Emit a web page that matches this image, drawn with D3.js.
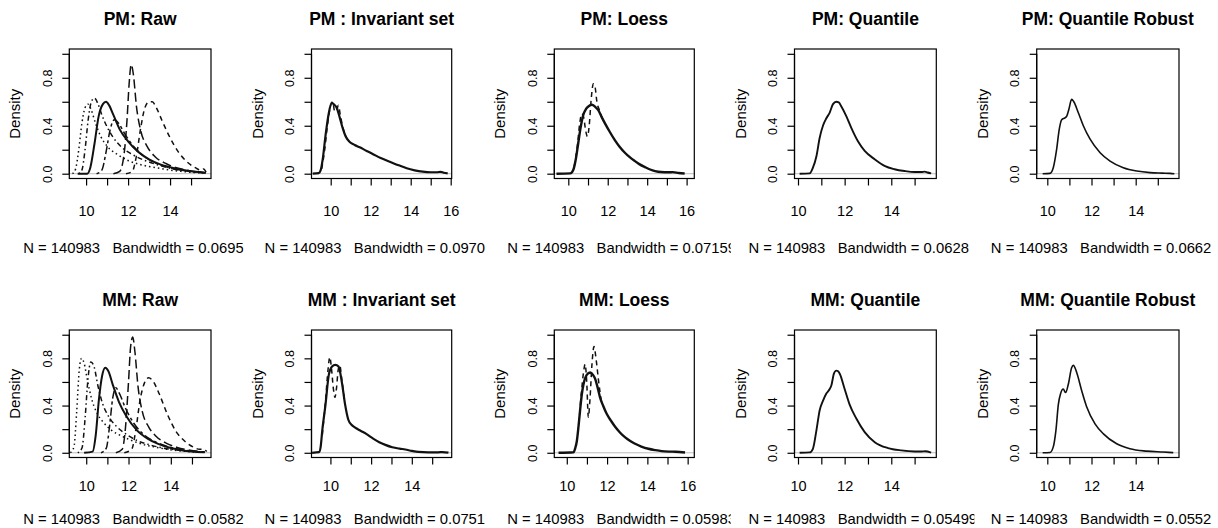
<!DOCTYPE html>
<html>
<head>
<meta charset="utf-8">
<script src="https://cdn.jsdelivr.net/npm/d3@7"></script>
<style>
  body { margin: 0; background: #fff; }
  svg { font-family: "Liberation Sans", Arial, sans-serif; }
  .sub { white-space: pre; }
</style>
</head>
<body>
<div id="chart"></div>
<script>
// ---- data ----
const titles = [
  'PM: Raw', 'PM : Invariant set', 'PM: Loess', 'PM: Quantile', 'PM: Quantile Robust',
  'MM: Raw', 'MM : Invariant set', 'MM: Loess', 'MM: Quantile', 'MM: Quantile Robust'
]
const nObs = 140983
const bandwidths = ['0.0695', '0.0970', '0.07159', '0.0628', '0.0662',
                    '0.0582', '0.0751', '0.05983', '0.05499', '0.0552']
const xDomains = [
  [9.2, 15.95], [9.04, 16.05], [9.29, 16.39], [9.85, 15.93], [9.52, 15.96],
  [9.2, 15.9], [9.07, 15.96], [9.38, 16.33], [9.85, 15.93], [9.52, 15.96]
]
const yDomain = [-0.04, 1.04]
const yTicks = [0, 0.2, 0.4, 0.6, 0.8, 1.0]
const yLabels = [0, 0.4, 0.8]

// PM raw: one density per array (solid, dashed, dotted, dotdash, longdash, twodash)
const pmRawSolid = [[9.6,0],[10.05,0],[10.2,0.05],[10.4,0.25],[10.6,0.48],[10.8,0.58],[10.95,0.6],[11.1,0.57],[11.3,0.49],[11.6,0.37],[12,0.27],[12.5,0.18],[13,0.12],[13.5,0.08],[14,0.055],[14.5,0.035],[15,0.02],[15.5,0.012],[15.7,0.005]]
const pmRawDashed = [[11.9,0],[12.2,0.02],[12.4,0.15],[12.6,0.38],[12.8,0.55],[13.0,0.6],[13.15,0.6],[13.35,0.55],[13.6,0.45],[14.0,0.3],[14.4,0.18],[14.8,0.1],[15.2,0.05],[15.45,0.03],[15.6,0.04],[15.72,0.01]]
const pmRawDotted = [[9.35,0],[9.5,0.04],[9.65,0.2],[9.8,0.42],[9.95,0.55],[10.1,0.58],[10.25,0.53],[10.45,0.42],[10.7,0.31],[11,0.23],[11.5,0.16],[12,0.11],[12.5,0.08],[13,0.06],[13.5,0.045],[14,0.03],[14.5,0.02],[15,0.012],[15.6,0.004]]
const pmRawDotDash = [[9.65,0],[9.8,0.03],[9.95,0.2],[10.1,0.45],[10.25,0.6],[10.4,0.63],[10.55,0.59],[10.75,0.49],[11.0,0.39],[11.3,0.3],[11.7,0.22],[12.2,0.16],[12.8,0.11],[13.3,0.08],[14,0.045],[14.5,0.03],[15,0.018],[15.6,0.008]]
const pmRawLongDash = [[11.3,0],[11.6,0.02],[11.8,0.15],[11.95,0.45],[12.05,0.75],[12.15,0.91],[12.25,0.83],[12.4,0.56],[12.6,0.36],[12.9,0.23],[13.3,0.14],[13.8,0.085],[14.3,0.05],[14.8,0.03],[15.3,0.015],[15.7,0.008]]
const pmRawTwoDash = [[10.5,0],[10.75,0.03],[10.95,0.18],[11.15,0.37],[11.35,0.45],[11.55,0.42],[11.85,0.33],[12.3,0.22],[12.8,0.14],[13.3,0.09],[14,0.05],[14.5,0.03],[15,0.018],[15.6,0.008]]

// MM raw
const mmRawSolid = [[9.9,0],[10.3,0.01],[10.45,0.15],[10.6,0.45],[10.75,0.65],[10.9,0.72],[11.05,0.69],[11.25,0.58],[11.55,0.43],[11.9,0.31],[12.4,0.19],[12.9,0.12],[13.4,0.075],[14,0.04],[14.5,0.022],[15,0.011],[15.6,0.004]]
const mmRawDashed = [[11.8,0],[12.15,0.03],[12.35,0.2],[12.55,0.45],[12.75,0.59],[12.95,0.635],[13.15,0.61],[13.45,0.5],[13.85,0.32],[14.25,0.18],[14.65,0.1],[15.05,0.05],[15.35,0.03],[15.55,0.03],[15.7,0.01]]
const mmRawDotted = [[9.25,0],[9.42,0.05],[9.55,0.35],[9.67,0.7],[9.78,0.8],[9.9,0.76],[10.05,0.62],[10.25,0.46],[10.5,0.34],[10.8,0.26],[11.2,0.19],[11.7,0.14],[12.2,0.1],[12.7,0.07],[13.2,0.05],[13.8,0.03],[14.5,0.015],[15.2,0.006],[15.6,0.003]]
const mmRawDotDash = [[9.6,0],[9.8,0.04],[9.95,0.3],[10.08,0.62],[10.22,0.77],[10.37,0.73],[10.55,0.57],[10.75,0.43],[11.05,0.31],[11.45,0.22],[11.95,0.15],[12.45,0.1],[12.95,0.07],[13.5,0.045],[14,0.03],[14.5,0.02],[15.2,0.01],[15.6,0.005]]
const mmRawLongDash = [[11.4,0],[11.7,0.03],[11.85,0.2],[12.0,0.6],[12.1,0.9],[12.2,0.98],[12.3,0.86],[12.45,0.56],[12.65,0.35],[12.95,0.22],[13.3,0.14],[13.8,0.08],[14.3,0.045],[14.8,0.025],[15.3,0.012],[15.6,0.008]]
const mmRawTwoDash = [[10.7,0],[10.95,0.04],[11.1,0.22],[11.25,0.46],[11.4,0.55],[11.55,0.51],[11.85,0.38],[12.25,0.25],[12.75,0.15],[13.3,0.09],[13.9,0.05],[14.5,0.025],[15.1,0.012],[15.6,0.005]]

// normalized sets: the common curve plus the arrays that stray from it near the peak
const pmInvMain = [[9.1,0],[9.4,0.005],[9.5,0.03],[9.6,0.12],[9.75,0.33],[9.9,0.5],[10.05,0.59],[10.15,0.58],[10.3,0.55],[10.45,0.47],[10.6,0.38],[10.75,0.31],[10.95,0.265],[11.2,0.24],[11.45,0.22],[11.8,0.19],[12.1,0.165],[12.5,0.13],[12.95,0.1],[13.4,0.07],[13.8,0.045],[14.2,0.028],[14.6,0.017],[15,0.012],[15.3,0.012],[15.5,0.016],[15.65,0.008],[15.85,0.002]]
const pmInvAlt = [[9.55,0.04],[9.7,0.2],[9.85,0.42],[10.0,0.57],[10.1,0.6],[10.2,0.52],[10.3,0.53],[10.38,0.57],[10.5,0.47],[10.65,0.36],[10.8,0.3]]
const pmLoessMain = [[9.4,0],[10.1,0.003],[10.25,0.03],[10.38,0.12],[10.5,0.25],[10.62,0.38],[10.76,0.49],[10.9,0.54],[11.05,0.565],[11.2,0.575],[11.35,0.56],[11.52,0.53],[11.7,0.47],[11.86,0.42],[12.1,0.35],[12.36,0.28],[12.6,0.225],[12.87,0.175],[13.1,0.14],[13.38,0.105],[13.6,0.08],[13.89,0.055],[14.15,0.035],[14.4,0.022],[14.7,0.014],[15.07,0.012],[15.3,0.013],[15.6,0.006],[15.9,0.002]]
const pmLoessAlt = [[10.3,0.06],[10.45,0.22],[10.58,0.42],[10.68,0.5],[10.78,0.47],[10.88,0.36],[10.97,0.31],[11.06,0.4],[11.16,0.62],[11.27,0.75],[11.36,0.72],[11.45,0.6],[11.58,0.53],[11.7,0.47]]
const pmQuant = [[10.07,0],[10.5,0.003],[10.64,0.05],[10.79,0.146],[10.93,0.3],[11.07,0.4],[11.21,0.46],[11.36,0.51],[11.5,0.58],[11.64,0.6],[11.75,0.595],[11.86,0.56],[12.07,0.48],[12.29,0.38],[12.57,0.27],[12.86,0.19],[13.29,0.12],[13.71,0.065],[14.14,0.037],[14.57,0.022],[15,0.014],[15.3,0.014],[15.43,0.017],[15.55,0.01],[15.71,0.003]]
const pmQRob = [[9.79,0],[10.12,0.003],[10.27,0.05],[10.42,0.2],[10.54,0.37],[10.65,0.45],[10.8,0.466],[10.88,0.48],[10.98,0.54],[11.1,0.62],[11.2,0.6],[11.4,0.51],[11.63,0.4],[11.93,0.29],[12.39,0.175],[12.84,0.105],[13.44,0.05],[14.05,0.022],[14.65,0.009],[15.2,0.005],[15.56,0.003],[15.75,0]]

const mmInvMain = [[9.1,0],[9.44,0.005],[9.52,0.05],[9.6,0.19],[9.76,0.41],[9.92,0.66],[10.08,0.73],[10.24,0.745],[10.4,0.73],[10.56,0.6],[10.72,0.41],[10.88,0.28],[11.05,0.235],[11.2,0.215],[11.5,0.185],[11.76,0.16],[12.1,0.12],[12.4,0.09],[12.7,0.067],[13.04,0.047],[13.4,0.035],[13.68,0.028],[14.0,0.016],[14.32,0.007],[14.8,0.004],[15.3,0.004],[15.5,0.006],[15.8,0.001]]
const mmInvAlt = [[9.6,0.15],[9.75,0.42],[9.88,0.7],[9.97,0.81],[10.06,0.7],[10.14,0.55],[10.22,0.47],[10.3,0.55],[10.38,0.7],[10.46,0.74],[10.56,0.62],[10.7,0.43]]
const mmLoessMain = [[9.59,0],[10.33,0.005],[10.42,0.04],[10.5,0.1],[10.58,0.22],[10.66,0.36],[10.75,0.5],[10.83,0.58],[10.99,0.66],[11.16,0.68],[11.3,0.66],[11.4,0.63],[11.52,0.56],[11.65,0.47],[11.8,0.4],[11.98,0.33],[12.2,0.27],[12.4,0.22],[12.65,0.17],[12.9,0.13],[13.15,0.1],[13.39,0.076],[13.7,0.053],[14.05,0.034],[14.4,0.022],[14.71,0.014],[15.1,0.01],[15.4,0.009],[15.87,0.002]]
const mmLoessAlt = [[10.6,0.25],[10.72,0.5],[10.83,0.68],[10.91,0.75],[10.99,0.6],[11.07,0.3],[11.15,0.45],[11.25,0.75],[11.35,0.9],[11.45,0.8],[11.57,0.62],[11.7,0.45]]
const mmQuant = [[10.07,0],[10.5,0.003],[10.64,0.034],[10.79,0.19],[10.93,0.36],[11.07,0.44],[11.21,0.5],[11.36,0.54],[11.43,0.57],[11.54,0.67],[11.64,0.696],[11.72,0.69],[11.79,0.67],[12.0,0.54],[12.21,0.41],[12.5,0.29],[12.86,0.175],[13.29,0.09],[13.86,0.04],[14.43,0.02],[15,0.011],[15.3,0.011],[15.45,0.013],[15.71,0.002]]
const mmQRob = [[9.79,0],[10.12,0.003],[10.27,0.05],[10.39,0.19],[10.5,0.41],[10.6,0.5],[10.72,0.54],[10.83,0.51],[10.95,0.58],[11.1,0.72],[11.18,0.74],[11.33,0.68],[11.55,0.53],[11.78,0.39],[12.16,0.245],[12.54,0.16],[13.14,0.076],[13.74,0.034],[14.5,0.014],[15.25,0.006],[15.7,0.001]]

// ---- line styles (R lty 1..6) ----
const dash = {
  solid: null, dashed: '5,4', dotted: '1.5,3', dotdash: '1.5,3,5,3',
  longdash: '9,4', twodash: '3,3,8,3'
}

const panelCurves = [
  [[pmRawDashed, 'dashed'], [pmRawDotted, 'dotted'], [pmRawDotDash, 'dotdash'],
   [pmRawLongDash, 'longdash'], [pmRawTwoDash, 'twodash'], [pmRawSolid, 'solid', 2]],
  [[pmInvAlt, 'dashed'], [pmInvMain, 'solid', 2.2]],
  [[pmLoessAlt, 'dashed'], [pmLoessMain, 'solid', 2.4]],
  [[pmQuant, 'solid', 1.9]],
  [[pmQRob, 'solid', 1.6]],
  [[mmRawDashed, 'dashed'], [mmRawDotted, 'dotted'], [mmRawDotDash, 'dotdash'],
   [mmRawLongDash, 'longdash'], [mmRawTwoDash, 'twodash'], [mmRawSolid, 'solid', 2]],
  [[mmInvAlt, 'dashed'], [mmInvMain, 'solid', 2.2]],
  [[mmLoessAlt, 'dashed'], [mmLoessMain, 'solid', 2.4]],
  [[mmQuant, 'solid', 1.9]],
  [[mmQRob, 'solid', 1.6]]
]

// ---- layout ----
const width = 1218, height = 528
const colW = width / 5
const boxLeft = [69.3, 311.5, 554.3, 794.5, 1036.7]
const boxRight = [211, 451.7, 694.3, 936.3, 1179]
const boxTop = [49, 330]
const boxBottom = [178.5, 457.5]
const titleY = [24.5, 305.5]
const xLabelY = [216, 491]
const subY = [253, 524]

const svg = d3.select('#chart').append('svg')
  .attr('width', width)
  .attr('height', height)

const defs = svg.append('defs')

titles.forEach((title, i) => {
  const c = i % 5, r = Math.floor(i / 5)
  const xd = xDomains[i]
  const x = d3.scaleLinear().domain(xd).range([boxLeft[c], boxRight[c]])
  const y = d3.scaleLinear().domain(yDomain).range([boxBottom[r], boxTop[r]])
  const cx = (boxLeft[c] + boxRight[c]) / 2
  const cy = (boxTop[r] + boxBottom[r]) / 2
  const g = svg.append('g')

  defs.append('clipPath').attr('id', 'fig' + i)
    .append('rect')
      .attr('x', c * colW).attr('y', r * 264)
      .attr('width', colW).attr('height', 264)

  // title
  g.append('text')
    .attr('x', cx).attr('y', titleY[r])
    .attr('text-anchor', 'middle')
    .attr('font-size', 17.5)
    .attr('font-weight', 'bold')
    .text(title)

  // zero line
  g.append('line')
    .attr('x1', boxLeft[c]).attr('x2', boxRight[c])
    .attr('y1', y(0)).attr('y2', y(0))
    .attr('stroke', '#bdbdbd').attr('stroke-width', 1)

  // curves
  const line = d3.line()
    .x(d => x(d[0]))
    .y(d => y(d[1]))
    .curve(d3.curveMonotoneX)

  panelCurves[i].forEach(([pts, lty, lw]) => {
    g.append('path')
      .datum(pts)
      .attr('fill', 'none')
      .attr('stroke', '#111')
      .attr('stroke-width', lw || 1.5)
      .attr('stroke-dasharray', dash[lty])
      .attr('d', line)
  })

  // box
  g.append('rect')
    .attr('x', boxLeft[c]).attr('y', boxTop[r])
    .attr('width', boxRight[c] - boxLeft[c])
    .attr('height', boxBottom[r] - boxTop[r])
    .attr('fill', 'none').attr('stroke', '#000').attr('stroke-width', 1.2)

  // x axis
  const xt = d3.range(Math.ceil(xd[0]), Math.floor(xd[1]) + 1)
  const gx = g.append('g')
    .attr('transform', `translate(0,${boxBottom[r]})`)
    .call(d3.axisBottom(x).tickValues(xt).tickSize(7).tickSizeOuter(0)
      .tickFormat(d => d % 2 === 0 ? d : ''))
  gx.select('.domain').remove()
  gx.append('line')
    .attr('x1', x(xt[0])).attr('x2', x(xt[xt.length - 1]))
    .attr('stroke', '#000')
  gx.selectAll('text')
    .attr('y', xLabelY[r] - boxBottom[r]).attr('dy', null)
    .attr('font-size', 14.5)
    .attr('fill', '#000')
  gx.selectAll('line').attr('stroke', '#000').attr('stroke-width', 1.2)

  // y axis
  const gy = g.append('g')
    .attr('transform', `translate(${boxLeft[c]},0)`)
    .call(d3.axisLeft(y).tickValues(yTicks).tickSize(7).tickSizeOuter(0)
      .tickFormat(d => yLabels.includes(d) ? d3.format('.1f')(d) : ''))
  gy.select('.domain').remove()
  gy.append('line')
    .attr('y1', y(0)).attr('y2', y(1))
    .attr('stroke', '#000')
  gy.selectAll('text')
    .attr('transform', 'rotate(-90)')
    .attr('x', 0).attr('y', -17.5).attr('dy', null)
    .attr('text-anchor', 'middle')
    .attr('font-size', 12.5)
    .attr('fill', '#000')
  gy.selectAll('line').attr('stroke', '#000').attr('stroke-width', 1.2)

  // y title
  g.append('text')
    .attr('transform', `translate(${boxLeft[c] - 49},${cy}) rotate(-90)`)
    .attr('text-anchor', 'middle')
    .attr('font-size', 15)
    .text('Density')

  // sub line, clipped to the figure region like R does
  g.append('text')
    .attr('class', 'sub')
    .attr('clip-path', `url(#fig${i})`)
    .attr('x', cx - 117).attr('y', subY[r])
    .attr('font-size', 14.8)
    .text(`N = ${nObs}   Bandwidth = ${bandwidths[i]}`)
})
</script>
</body>
</html>
